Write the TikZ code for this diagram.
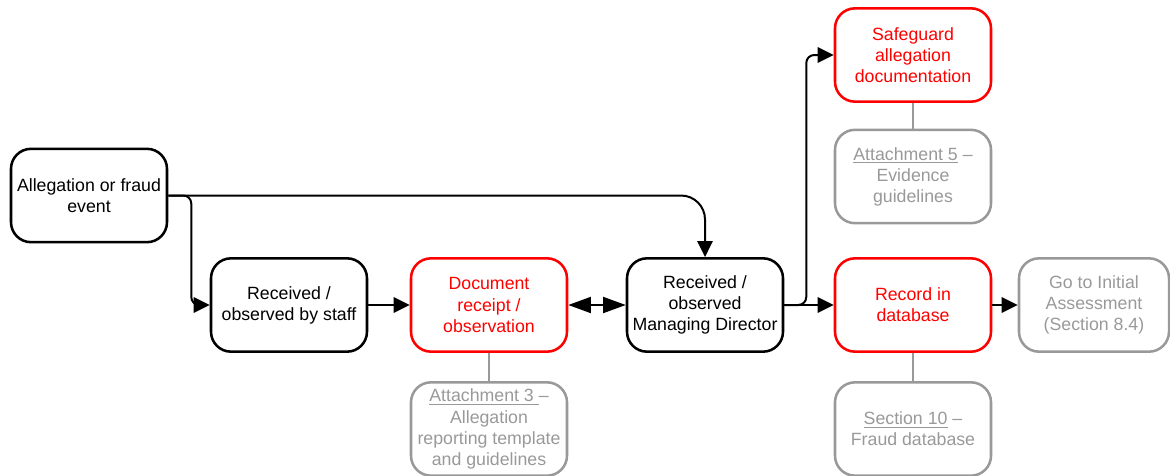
\documentclass[tikz,border=0pt]{standalone}
\usepackage{fontspec}
\setmainfont{Liberation Sans}
\usetikzlibrary{arrows.meta}
\definecolor{attgray}{HTML}{999999}
\definecolor{keyred}{HTML}{FF0000}
\begin{document}
\begin{tikzpicture}[x=0.75pt,y=-0.75pt,
  box/.style={draw,line width=1.9pt,rounded corners=15pt,minimum width=117pt,minimum height=70pt,
    align=center,inner sep=2pt,font=\fontsize{13.3}{15.8}\selectfont},
  redbox/.style={box,draw=keyred,text=keyred},
  graybox/.style={box,draw=attgray,text=attgray},
  arr/.style={line width=1.5pt,-{Triangle[length=12pt,width=11.5pt]}},
  dblarr/.style={line width=1.5pt,{Triangle[length=17pt,width=12pt]}-{Triangle[length=17pt,width=12pt]}},
  link/.style={line width=1.9pt,attgray}]
\useasboundingbox (0,0) rectangle (1170,475);
\node[box] (alleg) at (89,195.5) {Allegation or fraud\\event};
\node[box] (staff) at (289,305) {Received /\\observed by staff};
\node[redbox] (doc) at (489,305) {Document\\receipt /\\observation};
\node[box] (md) at (705,305) {Received /\\observed\\Managing Director};
\node[redbox] (safe) at (913,55) {Safeguard\\allegation\\documentation};
\node[redbox] (rec) at (913,305) {Record in\\database};
\node[graybox,minimum width=112.5pt] (goto) at (1094,305) {Go to Initial\\Assessment\\(Section 8.4)};
\node[graybox] (att3) at (489,429) {\underline{Attachment 3 }–\\Allegation\\reporting template\\and guidelines};
\node[graybox] (att5) at (913,176.5) {\underline{Attachment 5} –\\Evidence\\guidelines};
\node[graybox] (sec10) at (913,429) {\underline{Section 10} –\\Fraud database};
\draw[arr,rounded corners=18pt] (alleg.east) -| (md.north);
\draw[arr,rounded corners=6pt] (alleg.east) -- ++(23,0) |- (staff.west);
\draw[arr] (staff.east) -- (doc.west);
\draw[dblarr] (doc.east) -- (md.west);
\draw[arr] (md.east) -- (rec.west);
\draw[arr,rounded corners=6pt] (md.east) -- ++(22,0) |- (safe.west);
\draw[arr] (rec.east) -- (goto.west);
\draw[link] (doc.south) -- (att3.north);
\draw[link] (safe.south) -- (att5.north);
\draw[link] (rec.south) -- (sec10.north);
\end{tikzpicture}
\end{document}
